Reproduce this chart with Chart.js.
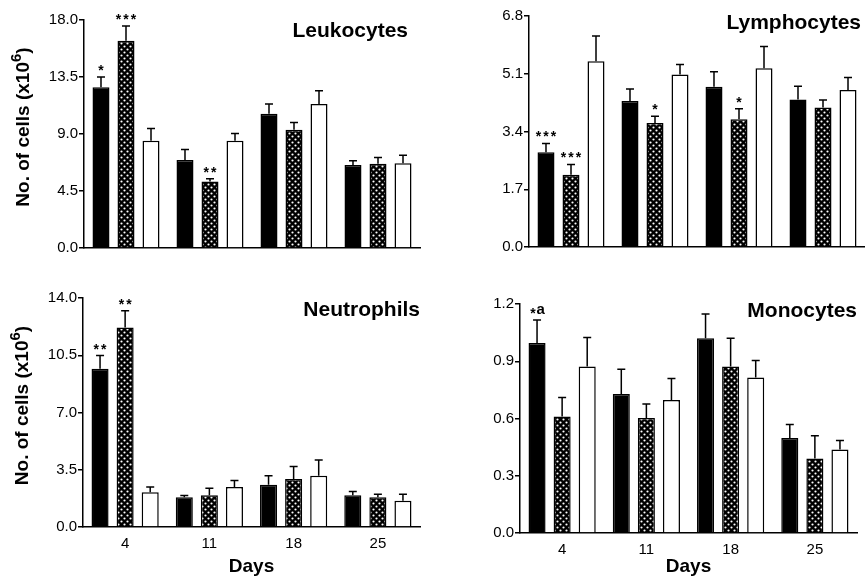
<!DOCTYPE html>
<html>
<head>
<meta charset="utf-8">
<script src="https://cdn.jsdelivr.net/npm/chart.js@4"></script>
<style>
  html, body { margin: 0; padding: 0; background: #fff; }
  body { width: 865px; height: 579px; position: relative; overflow: hidden; }
  .panel { position: absolute; }
</style>
</head>
<body>
<div class="panel" style="left:0;top:0;width:430px;height:260px"><canvas id="leukChart"></canvas></div>
<div class="panel" style="left:430px;top:0;width:435px;height:260px"><canvas id="lymphChart"></canvas></div>
<div class="panel" style="left:0;top:280px;width:430px;height:299px"><canvas id="neutChart"></canvas></div>
<div class="panel" style="left:430px;top:280px;width:435px;height:299px"><canvas id="monoChart"></canvas></div>
<script>
// days on the x axis
const days = ['4', '11', '18', '25'];
// rows: black bar, dotted bar, white bar
const leukMeans = [[12.7, 6.94, 10.6, 6.55], [16.37, 5.25, 9.33, 6.65], [8.46, 8.46, 11.36, 6.7]];
const leukErrors = [[0.8, 0.84, 0.76, 0.33], [1.15, 0.22, 0.58, 0.5], [0.97, 0.58, 1.05, 0.63]];
const leukMarks = [['*', '', '', ''], ['***', '**', '', ''], ['', '', '', '']];
const leukTicks = [0, 4.5, 9, 13.5, 18];

const lymphMeans = [[2.79, 4.30, 4.72, 4.34], [2.13, 3.65, 3.76, 4.11], [5.47, 5.08, 5.26, 4.62]];
const lymphErrors = [[0.26, 0.35, 0.44, 0.39], [0.30, 0.2, 0.31, 0.22], [0.74, 0.29, 0.64, 0.37]];
const lymphMarks = [['***', '', '', ''], ['***', '*', '*', ''], ['', '', '', '']];
const lymphTicks = [0, 1.7, 3.4, 5.1, 6.8];

const neutMeans = [[9.67, 1.82, 2.58, 1.94], [12.2, 1.94, 2.94, 1.82], [2.13, 2.45, 3.13, 1.61]];
const neutErrors = [[0.81, 0.1, 0.55, 0.23], [1.02, 0.43, 0.76, 0.18], [0.32, 0.39, 0.96, 0.39]];
const neutMarks = [['**', '', '', ''], ['**', '', '', ''], ['', '', '', '']];
const neutTicks = [0, 3.5, 7, 10.5, 14];

const monoMeans = [[0.995, 0.729, 1.021, 0.498], [0.61, 0.603, 0.872, 0.39], [0.872, 0.697, 0.815, 0.438]];
const monoErrors = [[0.121, 0.129, 0.126, 0.07], [0.1, 0.073, 0.149, 0.12], [0.153, 0.112, 0.089, 0.047]];
const monoMarks = [['*a', '', '', ''], ['', '', '', ''], ['', '', '', '']];
const monoTicks = [0, 0.3, 0.6, 0.9, 1.2];

const FONT = "'Liberation Sans', Arial, Helvetica, sans-serif";

// dark fill with small white dots
function dotPattern() {
    const c = document.createElement('canvas');
    c.width = 6;
    c.height = 6;
    const g = c.getContext('2d');
    g.fillStyle = '#000';
    g.fillRect(0, 0, 6, 6);
    g.fillStyle = '#fff';
    g.beginPath();
    g.arc(1.5, 1.5, 1.1, 0, Math.PI * 2);
    g.arc(4.5, 4.5, 1.1, 0, Math.PI * 2);
    g.fill();
    return g.createPattern(c, 'repeat');
}

// error bars (upward only) and significance marks
const errorBars = {
    id: 'errorBars',
    afterDatasetsDraw(chart) {
        const ctx = chart.ctx;
        const yScale = chart.scales.y;
        ctx.save();
        ctx.strokeStyle = '#000';
        ctx.fillStyle = '#000';
        ctx.lineWidth = 1.5;
        ctx.textAlign = 'center';
        ctx.textBaseline = 'alphabetic';
        chart.data.datasets.forEach((ds, i) => {
            chart.getDatasetMeta(i).data.forEach((bar, j) => {
                const top = yScale.getPixelForValue(ds.data[j] + ds.errors[j]);
                ctx.beginPath();
                ctx.moveTo(bar.x, bar.y);
                ctx.lineTo(bar.x, top);
                ctx.moveTo(bar.x - 4, top);
                ctx.lineTo(bar.x + 4, top);
                ctx.stroke();
                const mark = ds.marks[j];
                if (mark) {
                    // asterisks small and spread, letters a bit larger
                    const stars = mark.replace(/[^*]/g, '');
                    const rest = mark.slice(stars.length);
                    ctx.font = 'bold 14px ' + FONT;
                    ctx.letterSpacing = '2px';
                    const ws = ctx.measureText(stars).width;
                    ctx.font = 'bold 15px ' + FONT;
                    ctx.letterSpacing = '0px';
                    const wr = rest ? ctx.measureText(rest).width : 0;
                    let x = bar.x - (ws + wr) / 2;
                    ctx.textAlign = 'left';
                    ctx.font = 'bold 14px ' + FONT;
                    ctx.letterSpacing = '2px';
                    ctx.fillText(stars, x + 1, top - 2);
                    if (rest) {
                        ctx.font = 'bold 15px ' + FONT;
                        ctx.letterSpacing = '0px';
                        ctx.fillText(rest, x + ws, top - 6);
                    }
                    ctx.letterSpacing = '0px';
                    ctx.textAlign = 'center';
                }
            });
        });
        ctx.restore();
    }
};

// panel name and rotated y title with superscript
const panelText = {
    id: 'panelText',
    afterDraw(chart, args, opts) {
        const ctx = chart.ctx;
        const area = chart.chartArea;
        ctx.save();
        ctx.fillStyle = '#000';
        ctx.font = 'bold 21px ' + FONT;
        ctx.textAlign = 'right';
        ctx.textBaseline = 'alphabetic';
        ctx.fillText(opts.title, area.right - opts.titleInset, area.top + opts.titleDrop);

        if (opts.yTitle) {
            const main = 'No. of cells (x10';
            const sup = '6';
            const close = ')';
            ctx.translate(area.left - 60, (area.top + area.bottom) / 2 - 7);
            ctx.rotate(-Math.PI / 2);
            ctx.textAlign = 'left';
            ctx.textBaseline = 'middle';
            ctx.font = 'bold 19px ' + FONT;
            const w1 = ctx.measureText(main).width;
            const w3 = ctx.measureText(close).width;
            ctx.font = 'bold 15px ' + FONT;
            const w2 = ctx.measureText(sup).width;
            let x = -(w1 + w2 + w3) / 2;
            ctx.font = 'bold 19px ' + FONT;
            ctx.fillText(main, x, 0);
            x += w1;
            ctx.font = 'bold 15px ' + FONT;
            ctx.fillText(sup, x, -7);
            x += w2;
            ctx.font = 'bold 19px ' + FONT;
            ctx.fillText(close, x, 0);
        }
        ctx.restore();
    }
};

function makePanel(id, p) {
    const fills = ['#000', dotPattern(), '#fff'];
    const datasets = p.means.map((m, i) => ({
        data: m,
        errors: p.errors[i],
        marks: p.marks[i],
        backgroundColor: fills[i],
        borderColor: '#000',
        borderWidth: 1.5,
        categoryPercentage: 0.893,
        barPercentage: 0.68
    }));

    new Chart(document.getElementById(id), {
        type: 'bar',
        data: { labels: days, datasets: datasets },
        plugins: [errorBars, panelText],
        options: {
            responsive: true,
            maintainAspectRatio: false,
            animation: false,
            layout: { padding: p.padding },
            scales: {
                x: {
                    grid: { display: false },
                    border: { display: true, color: '#000', width: 1.5 },
                    ticks: {
                        display: p.showDays,
                        color: '#000',
                        padding: 0,
                        font: { family: FONT, size: 15 }
                    },
                    title: {
                        display: p.showDays,
                        text: 'Days',
                        color: '#000',
                        padding: { top: 0, bottom: 1 },
                        font: { family: FONT, size: 19, weight: 'bold' }
                    },
                    afterFit: scale => { scale.height = p.xHeight; }
                },
                y: {
                    min: 0,
                    max: p.ticks[p.ticks.length - 1],
                    grid: {
                        drawOnChartArea: false,
                        drawTicks: true,
                        tickLength: 5,
                        color: '#000',
                        lineWidth: 1.5
                    },
                    border: { color: '#000', width: 1.5 },
                    ticks: {
                        color: '#000',
                        padding: 1,
                        font: { family: FONT, size: 15 },
                        callback: v => Number(v).toFixed(1)
                    },
                    afterBuildTicks: scale => {
                        scale.ticks = p.ticks.map(v => ({ value: v }));
                    },
                    afterFit: scale => { scale.width = p.yWidth; }
                }
            },
            plugins: {
                legend: { display: false },
                tooltip: { enabled: false },
                panelText: {
                    title: p.title,
                    titleInset: p.titleInset,
                    titleDrop: p.titleDrop,
                    yTitle: p.yTitle
                }
            }
        }
    });
}

makePanel('leukChart', {
    means: leukMeans, errors: leukErrors, marks: leukMarks, ticks: leukTicks,
    title: 'Leukocytes', titleInset: 12, titleDrop: 17, yTitle: true, showDays: false,
    yWidth: 84, xHeight: 0, padding: { left: 0, right: 10, top: 20, bottom: 12 }
});
makePanel('lymphChart', {
    means: lymphMeans, errors: lymphErrors, marks: lymphMarks, ticks: lymphTicks,
    title: 'Lymphocytes', titleInset: 4, titleDrop: 13, yTitle: false, showDays: false,
    yWidth: 99, xHeight: 0, padding: { left: 0, right: 0, top: 16, bottom: 13 }
});
makePanel('neutChart', {
    means: neutMeans, errors: neutErrors, marks: neutMarks, ticks: neutTicks,
    title: 'Neutrophils', titleInset: 0, titleDrop: 18, yTitle: true, showDays: true,
    yWidth: 83, xHeight: 52, padding: { left: 0, right: 10, top: 18, bottom: 0 }
});
makePanel('monoChart', {
    means: monoMeans, errors: monoErrors, marks: monoMarks, ticks: monoTicks,
    title: 'Monocytes', titleInset: 0, titleDrop: 13, yTitle: false, showDays: true,
    yWidth: 90, xHeight: 46, padding: { left: 0, right: 8, top: 24, bottom: 0 }
});
</script>
</body>
</html>
